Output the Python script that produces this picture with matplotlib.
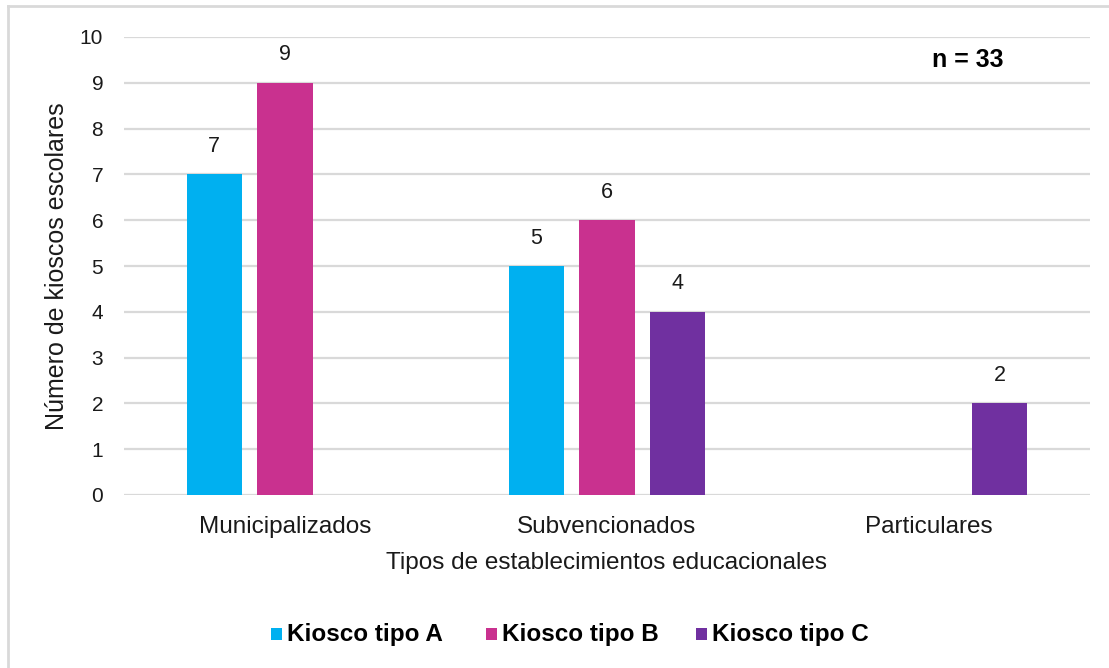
import matplotlib
matplotlib.use("Agg")
import matplotlib.pyplot as plt
from matplotlib.lines import Line2D
from matplotlib.patches import Rectangle
import numpy as np

categories = ["Municipalizados", "Subvencionados", "Particulares"]
series_names = ["Kiosco tipo A", "Kiosco tipo B", "Kiosco tipo C"]
tipo_a = [7, 5, 0]
tipo_b = [9, 6, 0]
tipo_c = [0, 4, 2]
colors = ["#00B0F0", "#C9318F", "#7030A0"]
yticks = list(range(0, 11))

plt.rcParams['font.family'] = ['Liberation Sans', 'DejaVu Sans']
TXT = '#1a1a1a'

W, H = 1109, 668
fig = plt.figure(figsize=(W/100, H/100), dpi=100)
ax = fig.add_axes([124/W, 1-495/H, (1090-124)/W, (495-37)/H])

x = np.arange(len(categories))
width = 0.171
offsets = [-0.22, 0.0, 0.22]
for vals, off, col in zip([tipo_a, tipo_b, tipo_c], offsets, colors):
    for xi, v in zip(x, vals):
        if v > 0:
            ax.bar(xi + off, v, width=width, color=col, zorder=3)
            ax.text(xi + off, v + 0.38, str(v), ha='center', va='bottom',
                    fontsize=15.5, color=TXT)

ax.set_xlim(-0.5, 2.5)
ax.set_ylim(0, 10)
ax.set_yticks(yticks)
ax.set_yticklabels([str(t) for t in yticks], fontsize=15)
ax.set_xticks(x)
ax.set_xticklabels(categories, fontsize=17.5)
ax.tick_params(axis='both', length=0, colors=TXT)
ax.tick_params(axis='y', pad=15)
ax.tick_params(axis='x', pad=15)
ax.grid(axis='y', color='#D9D9D9', linewidth=1.6, zorder=0)
ax.set_axisbelow(True)
for s in ax.spines.values():
    s.set_visible(False)

ax.set_ylabel("Número de kioscos escolares", fontsize=18, color=TXT, labelpad=8)
ax.set_xlabel("Tipos de establecimientos educacionales", fontsize=17.5, color=TXT, labelpad=10)

fig.text(968/W, 1-60/H, "n = 33", ha='center', va='center', fontsize=18,
         fontweight='bold', color='black')

# legend
leg_marker_x = [271, 486, 696]
for mx, c, name in zip(leg_marker_x, colors, series_names):
    fig.add_artist(Rectangle((mx/W, 1-640/H), 11/W, 12/H, facecolor=c, edgecolor='none',
                             transform=fig.transFigure))
    fig.text((mx+16)/W, 1-634/H, name, ha='left', va='center', fontsize=17.5,
             fontweight='bold', color='black')

# partial outer border
fig.add_artist(Line2D([8/W, 8/W], [0, 1-6/H], color='#D9D9D9', linewidth=2, transform=fig.transFigure))
fig.add_artist(Line2D([8/W, 1], [1-6/H, 1-6/H], color='#D9D9D9', linewidth=2, transform=fig.transFigure))

fig.savefig("out.png", dpi=100)
